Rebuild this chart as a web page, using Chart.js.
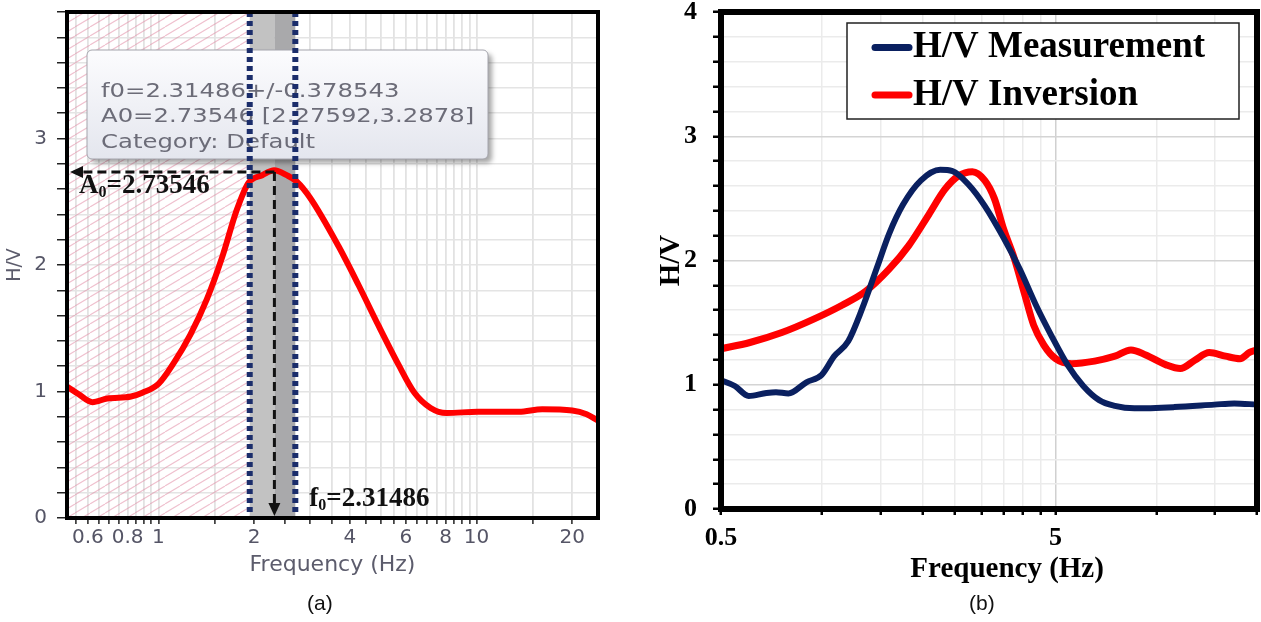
<!DOCTYPE html>
<html>
<head>
<meta charset="utf-8">
<script src="https://cdn.jsdelivr.net/npm/chart.js@4.4.1/dist/chart.umd.min.js"></script>
<style>
  html, body { margin: 0; padding: 0; background: #fff; }
  body { width: 1261px; height: 622px; position: relative; overflow: hidden; }
  #chartA { position: absolute; left: 0; top: 0; }
  #chartB { position: absolute; left: 640px; top: 0; }
  .cap { position: absolute; top: 591px; font: 21px "Liberation Sans", Arial, sans-serif; color: #111; line-height: 24px; }
</style>
</head>
<body>
<canvas id="chartA" width="620" height="622"></canvas>
<canvas id="chartB" width="621" height="622"></canvas>
<div class="cap" style="left:307px">(a)</div>
<div class="cap" style="left:969px">(b)</div>
<script>
// H/V curves: (a) peak picking view, (b) measured vs inverted H/V
(function() {
    'use strict';

    // ---- panel (a) ----
    const freqA = [0.515, 0.56, 0.62, 0.69, 0.82, 0.89, 1.0, 1.12, 1.26, 1.42, 1.59, 1.76, 1.92, 2.12, 2.31, 2.53, 2.72, 3.0, 3.68, 4.26, 4.92, 5.69, 6.38, 7.17, 8.05, 10.1, 13.6, 16.1, 20.0, 22.2, 24.1];
    const hvA = [1.04, 0.98, 0.915, 0.945, 0.96, 0.99, 1.06, 1.23, 1.45, 1.73, 2.07, 2.43, 2.65, 2.71, 2.75, 2.71, 2.66, 2.53, 2.15, 1.84, 1.52, 1.21, 0.99, 0.87, 0.83, 0.84, 0.84, 0.86, 0.85, 0.82, 0.77];
    const f0 = 2.31486;
    const f0Std = 0.378543;
    const A0 = 2.73546;
    const tipLines = ['f0=2.31486+/-0.378543', 'A0=2.73546 [2.27592,3.2878]', 'Category: Default'];
    const xTicksA = [0.55, 0.6, 0.65, 0.7, 0.75, 0.8, 0.85, 0.9, 0.95, 1, 1.5, 2, 2.5, 3, 3.5, 4, 4.5, 5, 5.5, 6, 6.5, 7, 7.5, 8, 8.5, 9, 9.5, 10, 15, 20];
    const xLabelsA = [0.6, 0.8, 1, 2, 4, 6, 8, 10, 20];
    const yLabelsA = [0, 1, 2, 3];

    // ---- panel (b) ----
    const freqMeas = [0.5, 0.55, 0.605, 0.684, 0.73, 0.795, 0.9, 1.0, 1.09, 1.2, 1.32, 1.47, 1.59, 1.75, 1.98, 2.26, 2.46, 2.75, 3.07, 3.5, 3.91, 4.37, 4.87, 5.43, 6.05, 6.75, 7.52, 8.6, 11.3, 14.9, 17.1, 20];
    const hvMeas = [1.036, 0.99, 0.91, 0.934, 0.94, 0.93, 1.02, 1.08, 1.23, 1.35, 1.61, 1.96, 2.215, 2.45, 2.645, 2.73, 2.72, 2.61, 2.44, 2.18, 1.93, 1.64, 1.39, 1.16, 0.99, 0.876, 0.83, 0.81, 0.82, 0.84, 0.85, 0.84];
    const freqInv = [0.5, 0.61, 0.76, 0.95, 1.15, 1.35, 1.59, 1.82, 2.09, 2.33, 2.56, 2.82, 3.07, 3.28, 3.5, 3.76, 4.03, 4.3, 4.61, 5.0, 5.58, 6.54, 7.52, 8.4, 9.3, 10.7, 11.8, 13.0, 14.4, 16.1, 17.8, 19.0, 20];
    const hvInv = [1.29, 1.34, 1.42, 1.53, 1.64, 1.75, 1.93, 2.12, 2.37, 2.57, 2.68, 2.715, 2.645, 2.5, 2.25, 2.02, 1.74, 1.48, 1.32, 1.21, 1.17, 1.19, 1.23, 1.28, 1.24, 1.16, 1.13, 1.195, 1.26, 1.23, 1.21, 1.26, 1.28];
    const xTicksB = [0.5, 1, 1.5, 2, 2.5, 3, 3.5, 4, 4.5, 5, 10, 15, 20];
    const xLabelsB = [0.5, 5];
    const yLabelsB = [0, 1, 2, 3, 4];

    const near = (a, b) => Math.abs(a - b) < 1e-6;
    const inList = (list, v) => list.some(function(t) { return near(t, v); });
    const pts = (xs, ys) => xs.map(function(x, i) { return {x: x, y: ys[i]}; });

    const sans = 'DejaVu Sans';
    const serif = 'Liberation Serif';

    function makeHatch(ctx) {
        const tile = document.createElement('canvas');
        tile.width = 15;
        tile.height = 9;
        const t = tile.getContext('2d');
        t.strokeStyle = 'rgba(226,140,165,0.55)';
        t.lineWidth = 1.1;
        t.beginPath();
        [-15, 0, 15].forEach(function(dx) {
            t.moveTo(dx, 9);
            t.lineTo(dx + 15, 0);
        });
        t.stroke();
        return ctx.createPattern(tile, 'repeat');
    }

    function arrowHead(ctx, x, y, dir) {
        ctx.beginPath();
        ctx.moveTo(x, y);
        if (dir === 'left') {
            ctx.lineTo(x + 13, y - 6);
            ctx.lineTo(x + 13, y + 6);
        } else {
            ctx.lineTo(x - 6, y - 13);
            ctx.lineTo(x + 6, y - 13);
        }
        ctx.closePath();
        ctx.fill();
    }

    function subLabel(ctx, x, y, main, sub, rest) {
        ctx.font = 'bold 27px "' + serif + '"';
        ctx.fillText(main, x, y);
        x += ctx.measureText(main).width;
        ctx.font = 'bold 16px "' + serif + '"';
        ctx.fillText(sub, x, y + 4);
        x += ctx.measureText(sub).width;
        ctx.font = 'bold 27px "' + serif + '"';
        ctx.fillText(rest, x, y);
    }

    // band, hatch, peak readout box and arrows for panel (a)
    const peakPlugin = {
        id: 'peakPlugin',
        beforeDatasetsDraw(chart) {
            const {ctx, chartArea: a, scales: {x}} = chart;
            const xl = x.getPixelForValue(f0 - f0Std);
            const xm = x.getPixelForValue(f0);
            const xr = x.getPixelForValue(f0 + f0Std);
            ctx.save();
            ctx.fillStyle = makeHatch(ctx);
            ctx.fillRect(a.left, a.top, xl - a.left, a.bottom - a.top);
            ctx.fillStyle = '#c2c2c2';
            ctx.fillRect(xl, a.top, xm - xl, a.bottom - a.top);
            ctx.fillStyle = '#a9a9ab';
            ctx.fillRect(xm, a.top, xr - xm, a.bottom - a.top);

            // readout box
            const bx = a.left + 20, by = a.top + 38, bw = 401, bh = 109;
            const g = ctx.createLinearGradient(0, by, 0, by + bh);
            g.addColorStop(0, '#fcfcfe');
            g.addColorStop(1, '#e4e6ee');
            ctx.shadowColor = 'rgba(0,0,0,0.35)';
            ctx.shadowOffsetX = 4;
            ctx.shadowOffsetY = 4;
            ctx.shadowBlur = 5;
            ctx.fillStyle = g;
            ctx.beginPath();
            ctx.roundRect(bx, by, bw, bh, 5);
            ctx.fill();
            ctx.shadowColor = 'transparent';
            ctx.strokeStyle = '#a4a4ac';
            ctx.lineWidth = 1;
            ctx.stroke();
            ctx.fillStyle = '#6c6c78';
            ctx.font = '19px "' + sans + '"';
            ctx.textBaseline = 'middle';
            tipLines.forEach(function(line, i) {
                ctx.save();
                ctx.translate(bx + 14, by + 42 + i * 25.5);
                ctx.scale(1.28, 1);
                ctx.fillText(line, 0, 0);
                ctx.restore();
            });
            ctx.restore();
        },
        afterDatasetsDraw(chart) {
            const {ctx, chartArea: a, scales: {x, y}} = chart;
            const xl = x.getPixelForValue(f0 - f0Std);
            const xm = x.getPixelForValue(f0);
            const xr = x.getPixelForValue(f0 + f0Std);
            const ya = y.getPixelForValue(A0);
            ctx.save();
            // dotted band edges
            ctx.strokeStyle = '#1b2d6b';
            ctx.lineWidth = 6;
            ctx.setLineDash([5, 4]);
            [xl, xr].forEach(function(px) {
                ctx.beginPath();
                ctx.moveTo(px, a.top);
                ctx.lineTo(px, a.bottom);
                ctx.stroke();
            });
            // dashed arrows to the axes
            ctx.strokeStyle = '#111';
            ctx.fillStyle = '#111';
            ctx.lineWidth = 3;
            ctx.setLineDash([9, 5]);
            ctx.beginPath();
            ctx.moveTo(xm, ya);
            ctx.lineTo(a.left + 14, ya);
            ctx.moveTo(xm, ya);
            ctx.lineTo(xm, a.bottom - 14);
            ctx.stroke();
            ctx.setLineDash([]);
            arrowHead(ctx, a.left + 3, ya, 'left');
            arrowHead(ctx, xm, a.bottom - 2, 'down');
            // value labels
            ctx.fillStyle = '#111';
            ctx.textBaseline = 'alphabetic';
            subLabel(ctx, a.left + 12, ya + 21, 'A', '0', '=' + A0);
            subLabel(ctx, xr + 14, a.bottom - 12, 'f', '0', '=' + f0);
            // frame
            ctx.strokeStyle = '#000';
            ctx.lineWidth = 4;
            ctx.strokeRect(a.left, a.top, a.right - a.left, a.bottom - a.top);
            ctx.restore();
        }
    };

    // legend box and frame for panel (b)
    const legendPlugin = {
        id: 'legendPlugin',
        afterDatasetsDraw(chart) {
            const {ctx, chartArea: a} = chart;
            const bx = a.right - 410, by = a.top + 11, bw = 392, bh = 96;
            ctx.save();
            ctx.fillStyle = '#fff';
            ctx.fillRect(bx, by, bw, bh);
            ctx.strokeStyle = '#222';
            ctx.lineWidth = 1.5;
            ctx.strokeRect(bx, by, bw, bh);
            ctx.font = 'bold 37px "' + serif + '"';
            ctx.textBaseline = 'middle';
            chart.data.datasets.forEach(function(ds, i) {
                const ry = by + 24.5 + i * 47.5;
                ctx.strokeStyle = ds.borderColor;
                ctx.lineWidth = 7;
                ctx.lineCap = 'round';
                ctx.beginPath();
                ctx.moveTo(bx + 28, ry);
                ctx.lineTo(bx + 62, ry);
                ctx.stroke();
                ctx.fillStyle = '#000';
                ctx.fillText(ds.label, bx + 66, ry);
            });
            ctx.strokeStyle = '#000';
            ctx.lineWidth = 6;
            ctx.lineCap = 'butt';
            ctx.strokeRect(a.left, a.top, a.right - a.left, a.bottom - a.top);
            ctx.restore();
        }
    };

    new Chart(document.getElementById('chartA'), {
        type: 'line',
        data: {
            datasets: [{
                label: 'H/V',
                data: pts(freqA, hvA),
                borderColor: '#ff0000',
                borderWidth: 6,
                pointRadius: 0,
                cubicInterpolationMode: 'monotone',
                fill: false
            }]
        },
        options: {
            responsive: false,
            animation: false,
            devicePixelRatio: 1,
            layout: { padding: { left: 0, right: 22, top: 12, bottom: 42 } },
            plugins: { legend: { display: false }, tooltip: { enabled: false } },
            scales: {
                x: {
                    type: 'logarithmic',
                    min: 0.5157,
                    max: 24.1,
                    afterBuildTicks: function(s) { s.ticks = xTicksA.map(function(v) { return {value: v}; }); },
                    afterFit: function(s) { s.height = 62; s.paddingLeft = 0; s.paddingRight = 0; },
                    border: { display: false },
                    grid: { color: '#e2e2e2', lineWidth: 1.8, tickColor: '#222', tickLength: 6, tickWidth: 1.5 },
                    ticks: {
                        autoSkip: false, maxRotation: 0, padding: 2,
                        color: '#555566', font: { family: sans, size: 20 },
                        callback: function(v) { return inList(xLabelsA, v) ? String(v) : ''; }
                    },
                    title: { display: true, text: 'Frequency (Hz)', color: '#5c5c6c', font: { family: sans, size: 22 }, padding: { top: 0, bottom: 2 } }
                },
                y: {
                    min: 0,
                    max: 4,
                    afterFit: function(s) { s.width = 67; s.paddingTop = 0; s.paddingBottom = 0; },
                    border: { display: false },
                    grid: { color: '#e4e4e4', lineWidth: 1.5, tickColor: '#222', tickLength: 10, tickWidth: 1.5 },
                    ticks: {
                        stepSize: 0.2, padding: 10, autoSkip: false,
                        color: '#555566', font: { family: sans, size: 20 },
                        callback: function(v) { return inList(yLabelsA, v) ? String(Math.round(v)) : ''; }
                    },
                    title: { display: true, text: 'H/V', color: '#5c5c6c', font: { family: sans, size: 19 }, padding: { top: 4, bottom: 0 } }
                }
            }
        },
        plugins: [peakPlugin]
    });

    new Chart(document.getElementById('chartB'), {
        type: 'line',
        data: {
            datasets: [
                {
                    label: 'H/V Measurement',
                    data: pts(freqMeas, hvMeas),
                    borderColor: '#0a2060',
                    borderWidth: 6,
                    pointRadius: 0,
                    cubicInterpolationMode: 'monotone',
                    fill: false
                },
                {
                    label: 'H/V Inversion',
                    data: pts(freqInv, hvInv),
                    borderColor: '#ff0000',
                    borderWidth: 7,
                    pointRadius: 0,
                    cubicInterpolationMode: 'monotone',
                    fill: false
                }
            ]
        },
        options: {
            responsive: false,
            animation: false,
            devicePixelRatio: 1,
            layout: { padding: { left: 0, right: 4, top: 12, bottom: 32 } },
            plugins: { legend: { display: false }, tooltip: { enabled: false } },
            scales: {
                x: {
                    type: 'logarithmic',
                    min: 0.5,
                    max: 20,
                    afterBuildTicks: function(s) { s.ticks = xTicksB.map(function(v) { return {value: v}; }); },
                    afterFit: function(s) { s.height = 81; s.paddingLeft = 0; s.paddingRight = 0; },
                    border: { display: false },
                    grid: {
                        color: function(c) { return c.tick && near(c.tick.value, 5) ? '#d0d0d0' : '#ebebeb'; },
                        lineWidth: 1.5, tickColor: '#000', tickLength: 6, tickWidth: 2.5
                    },
                    ticks: {
                        autoSkip: false, maxRotation: 0, padding: 8,
                        color: '#000', font: { family: serif, size: 26, weight: 'bold' },
                        callback: function(v) { return inList(xLabelsB, v) ? String(v) : ''; }
                    },
                    title: { display: true, text: '\u2003 Frequency (Hz)', color: '#000', font: { family: serif, size: 29, weight: 'bold' }, padding: { top: 0, bottom: 3 } }
                },
                y: {
                    min: 0,
                    max: 4,
                    afterFit: function(s) { s.width = 81; s.paddingTop = 0; s.paddingBottom = 0; },
                    border: { display: false },
                    grid: {
                        color: function(c) { return c.tick && inList(yLabelsB, c.tick.value) ? '#d4d4d4' : '#ebebeb'; },
                        lineWidth: 1.5, tickColor: '#000', tickLength: 8, tickWidth: 2.5
                    },
                    ticks: {
                        stepSize: 0.2, padding: 16, autoSkip: false,
                        color: '#000', font: { family: serif, size: 26, weight: 'bold' },
                        callback: function(v) { return inList(yLabelsB, v) ? String(Math.round(v)) : ''; }
                    },
                    title: { display: true, text: 'H/V', color: '#000', font: { family: serif, size: 29, weight: 'bold' }, padding: { top: 14, bottom: 0 } }
                }
            }
        },
        plugins: [legendPlugin]
    });
})();
</script>
</body>
</html>
